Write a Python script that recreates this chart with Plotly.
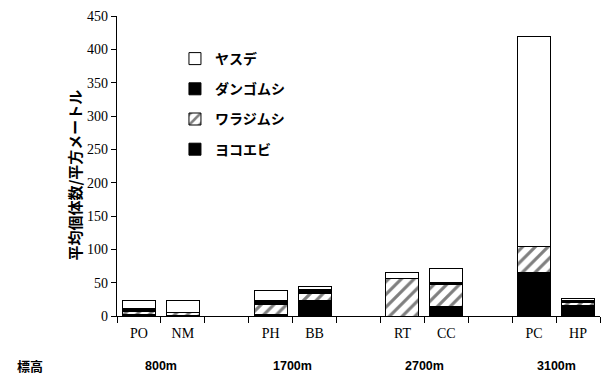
import plotly.graph_objects as go

# Sampling sites (left to right) and the empty slots separating elevation groups
sites = ["PO", "NM", "PH", "BB", "RT", "CC", "PC", "HP"]
axis_slots = ["PO", "NM", " ", "PH", "BB", "  ", "RT", "CC", "   ", "PC", "HP"]

# Elevation of each pair of sites
elevations = ["800m", "1700m", "2700m", "3100m"]
elevation_pairs = [("PO", "NM"), ("PH", "BB"), ("RT", "CC"), ("PC", "HP")]

# Mean individuals per square metre, by taxon (stack order bottom -> top)
yokoebi = [2, 1, 2, 23, 0, 15, 66, 16]        # ヨコエビ
warajimushi = [5, 4, 15, 11, 56, 32, 38, 4]   # ワラジムシ
dangomushi = [5, 0, 6, 6, 0, 4, 0, 4]         # ダンゴムシ
yasude = [11, 18, 16, 5, 10, 21, 316, 3]      # ヤスデ

y_ticks = [0, 50, 100, 150, 200, 250, 300, 350, 400, 450]

SERIF = "Liberation Serif, Times New Roman, serif"
JP = "Noto Sans CJK JP, sans-serif"

outline = dict(color="black", width=1)

fig = go.Figure()
fig.add_trace(go.Bar(
    x=sites, y=yokoebi, name="ヨコエビ", legendgroup="a", legendrank=4,
    marker=dict(color="black", line=outline),
))
fig.add_trace(go.Bar(
    x=sites, y=warajimushi, name="ワラジムシ", legendgroup="b", legendrank=3,
    marker=dict(color="white", line=outline,
                pattern=dict(shape="/", fgcolor="black", bgcolor="white",
                             size=9, solidity=0.35)),
))
fig.add_trace(go.Bar(
    x=sites, y=dangomushi, name="ダンゴムシ", legendgroup="c", legendrank=2,
    marker=dict(color="black", line=outline),
))
fig.add_trace(go.Bar(
    x=sites, y=yasude, name="ヤスデ", legendgroup="d", legendrank=1,
    marker=dict(color="white", line=outline),
))

# Elevation labels under each pair of sites
for label, (a, b) in zip(elevations, elevation_pairs):
    mid = (axis_slots.index(a) + axis_slots.index(b)) / 2
    fig.add_annotation(
        x=mid, xref="x", y=-0.165, yref="paper", yanchor="middle",
        text=label, showarrow=False,
        font=dict(family="Liberation Sans, Arial, sans-serif", size=12.5,
                  color="black", weight="bold"),
    )
fig.add_annotation(
    x=-0.18, xref="paper", y=-0.165, yref="paper",
    yanchor="middle", xanchor="center",
    text="標高", showarrow=False,
    font=dict(family=JP, size=13, color="black", weight="bold"),
)

# Vertical y-axis title
fig.add_annotation(
    x=-0.09, xref="paper", y=0.47, yref="paper",
    text="平均個体数/平方メートル", textangle=-90, showarrow=False,
    xanchor="center", yanchor="middle",
    font=dict(family=JP, size=15, color="black", weight="bold"),
)

fig.update_layout(
    width=609, height=380,
    margin=dict(l=117, r=9, t=16, b=64),
    paper_bgcolor="white", plot_bgcolor="white",
    barmode="stack", bargap=0.25,
    showlegend=True,
    legend=dict(
        x=0.12, y=0.91, xanchor="left", yanchor="top",
        traceorder="grouped", tracegroupgap=9,
        font=dict(family=JP, size=14, color="black", weight="bold"),
        bgcolor="rgba(0,0,0,0)",
    ),
    xaxis=dict(
        type="category", categoryorder="array", categoryarray=axis_slots,
        range=[-0.5, len(axis_slots) - 0.5],
        showline=True, linecolor="black", linewidth=1.2,
        ticks="outside", tickson="boundaries", ticklen=6,
        tickcolor="black", tickwidth=1,
        ticklabelstandoff=4,
        tickfont=dict(family=SERIF, size=14, color="black"),
        showgrid=False, zeroline=False,
    ),
    yaxis=dict(
        range=[0, 450], tickvals=y_ticks,
        showline=True, linecolor="black", linewidth=1.2,
        ticks="outside", ticklen=5, tickcolor="black", tickwidth=1,
        tickfont=dict(family=SERIF, size=14, color="black"),
        showgrid=False, zeroline=False,
    ),
)

fig.write_html("out.html")
